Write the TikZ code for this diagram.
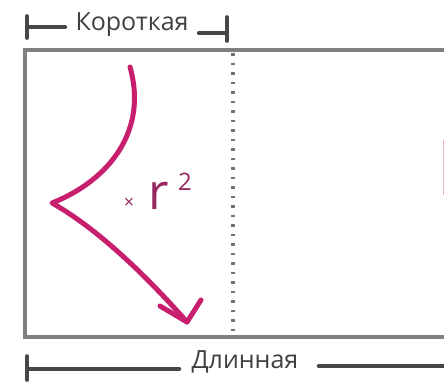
\documentclass[tikz,border=0pt]{standalone}
\usepackage{fontspec}
\setmainfont{Open Sans}
\begin{document}
\begin{tikzpicture}[x=1pt,y=-1pt,
  dimline/.style={draw=black!72,line width=3.6pt,line cap=round},
  frame/.style={draw=black!50,line width=3.8pt},
  pinkline/.style={draw=pinkc,line width=5pt,line cap=round,line join=round},
  lbl/.style={text=black!75,font=\fontsize{25}{27}\selectfont,inner sep=0pt},
  rlbl/.style={text=rtext,inner sep=0pt}]
\definecolor{pinkc}{RGB}{200,30,110}
\definecolor{rtext}{RGB}{150,40,95}
\clip (0,0) rectangle (444,384);
\fill[white] (0,0) rectangle (444,384);
% top dimension
\node[lbl] (short) at (132,25) {Короткая};
\coordinate (tl) at (27,27);
\coordinate (tr) at (227,33);
\draw[dimline] (27,16) -- (27,38);
\draw[dimline] (tl) -- ([xshift=-10pt]short.west |- tl);
\draw[dimline] ([xshift=10pt]short.east |- tr) -- (tr);
\draw[dimline] (227,17) -- (227,41);
% frame
\draw[frame] (460,50) -- (25,50) -- (25,337) -- (460,337);
% dotted divider
\draw[draw=black!55,line width=3.4pt,dash pattern=on 2.5pt off 7pt] (233,53) -- (233,335);
% pink arrow
\coordinate (a0) at (130,67);
\coordinate (a1) at (52,203);
\coordinate (a2) at (187,322);
\draw[pinkline] (a0) .. controls (148,130) and (110,180) .. (a1)
  .. controls (100,230) and (150,280) .. (a2);
\draw[pinkline] (160,306) -- (a2) -- (201,300);
% label
\node[rlbl,font=\fontsize{18}{18}\selectfont] (times) at (129,203) {×};
\node[rlbl,font=\fontsize{50}{50}\selectfont,anchor=base west] (r) at (148,209) {r};
\node[rlbl,font=\fontsize{24}{24}\selectfont,anchor=base west] (two) at (178,190) {2};
% right-edge pink sliver
\draw[draw=pinkc!35,line width=1.5pt] (443.5,140) -- (443.5,195);
% bottom dimension
\node[lbl] (long) at (245,362) {Длинная};
\coordinate (bl) at (27,369);
\coordinate (br) at (450,366);
\draw[dimline] (27,356) -- (27,380);
\draw[dimline] (bl) -- ([xshift=-12pt]long.west |- bl);
\draw[dimline] ([xshift=20pt]long.east |- br) -- (br);
\end{tikzpicture}
\end{document}
